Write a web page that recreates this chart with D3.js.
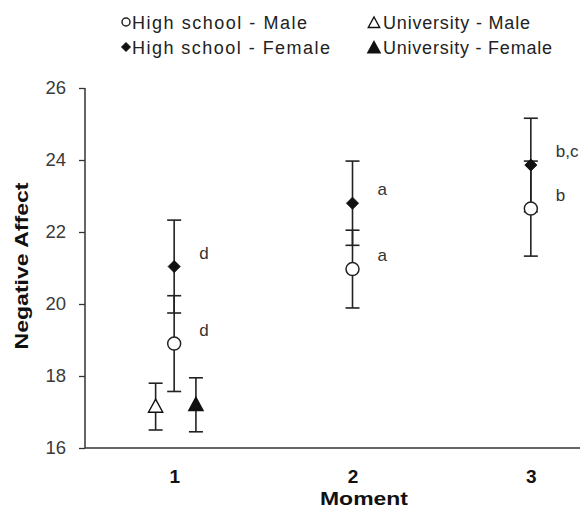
<!DOCTYPE html>
<html>
<head>
<meta charset="utf-8">
<script src="https://cdn.jsdelivr.net/npm/d3@7"></script>
<style>
  html, body { margin: 0; padding: 0; background: #fff; }
  svg { display: block; }
  text { font-family: "Liberation Sans", Arial, sans-serif; }
</style>
</head>
<body>
<svg id="chart" width="580" height="509"></svg>
<script>
// ---- data ----
const moments = [1, 2, 3];
const yTicks = [16, 18, 20, 22, 24, 26];

const hsMaleMean   = [18.9, 20.97, 22.65];
const hsMaleErr    = [1.33, 1.08, 1.32];
const hsFemaleMean = [21.04, 22.8, 23.86];
const hsFemaleErr  = [1.29, 1.17, 1.3];
const uniMaleMean   = [17.15];
const uniMaleErr    = [0.65];
const uniFemaleMean = [17.2];
const uniFemaleErr  = [0.75];

const hsMaleLabels   = ["d", "a", "b"];
const hsFemaleLabels = ["d", "a", "b,c"];

const legendNames = ["High school - Male", "High school - Female", "University - Male", "University - Female"];

// ---- layout ----
const svg = d3.select("#chart");
const x = d3.scaleLinear().domain([0.5, 3.5]).range([85, 620]);
const y = d3.scaleLinear().domain([16, 26]).range([448, 88]);

const ink = "#222";

// axes
const yAxis = svg.append("g").attr("transform", "translate(85,0)")
  .call(d3.axisLeft(y).tickValues(yTicks).tickSize(6).tickPadding(13).tickFormat(d3.format("d")));
yAxis.select(".domain").attr("stroke", "#333").attr("stroke-width", 1.5).attr("d", `M0,${y(26)}V${y(16)}`);
yAxis.selectAll(".tick line").attr("stroke", "#333").attr("stroke-width", 1.3);
yAxis.selectAll(".tick text").attr("fill", "#3a3a3a").style("font-size", "18.5px")
  .style("font-family", "'Liberation Sans', Arial, sans-serif");

const xAxis = svg.append("g").attr("transform", `translate(0,${y(16)})`)
  .call(d3.axisBottom(x).tickValues(moments).tickSize(0).tickPadding(22).tickFormat(d3.format("d")));
xAxis.select(".domain").attr("stroke", "#333").attr("stroke-width", 1.5).attr("d", `M85,0H580`);
xAxis.selectAll(".tick text").attr("fill", "#111").style("font-size", "19px").style("font-weight", "bold")
  .style("font-family", "'Liberation Sans', Arial, sans-serif");

// axis titles
svg.append("text").attr("x", 364).attr("y", 505).attr("text-anchor", "middle")
  .attr("fill", "#111").style("font-size", "19px").style("font-weight", "bold")
  .attr("textLength", 88).attr("lengthAdjust", "spacingAndGlyphs").text("Moment");
svg.append("text").attr("transform", "translate(28,266) rotate(-90)").attr("text-anchor", "middle")
  .attr("fill", "#111").style("font-size", "19px").style("font-weight", "bold")
  .attr("textLength", 167).attr("lengthAdjust", "spacingAndGlyphs").text("Negative Affect");

// marker shapes
function drawMarker(g, type, cx, cy, s) {
  if (type === "circle") {
    g.append("circle").attr("cx", cx).attr("cy", cy).attr("r", s)
      .attr("fill", "#fff").attr("stroke", ink).attr("stroke-width", 1.5);
  } else if (type === "diamond") {
    g.append("path").attr("d", `M${cx},${cy - s}L${cx + s},${cy}L${cx},${cy + s}L${cx - s},${cy}Z`)
      .attr("fill", "#111").attr("stroke", "#111").attr("stroke-width", 1);
  } else {
    const filled = type === "triFilled";
    g.append("path").attr("d", `M${cx},${cy - s}L${cx + s * 0.95},${cy + s * 0.75}L${cx - s * 0.95},${cy + s * 0.75}Z`)
      .attr("fill", filled ? "#111" : "#fff").attr("stroke", "#111").attr("stroke-width", 1.4)
      .attr("stroke-linejoin", "miter");
  }
}

const series = [
  { mean: hsMaleMean, err: hsMaleErr, type: "circle", size: 6.5, off: 0 },
  { mean: hsFemaleMean, err: hsFemaleErr, type: "diamond", size: 6, off: 0 },
  { mean: uniMaleMean, err: uniMaleErr, type: "triOpen", size: 7.5, off: -0.104 },
  { mean: uniFemaleMean, err: uniFemaleErr, type: "triFilled", size: 7.5, off: 0.122 }
];

const plot = svg.append("g");
const capW = 7;
// error bars first
series.forEach(s => {
  s.mean.forEach((m, i) => {
    const cx = x(moments[i] + s.off);
    const top = y(m + s.err[i]), bot = y(m - s.err[i]);
    plot.append("line").attr("x1", cx).attr("x2", cx).attr("y1", top).attr("y2", bot)
      .attr("stroke", ink).attr("stroke-width", 1.6);
    [top, bot].forEach(yy => plot.append("line").attr("x1", cx - capW).attr("x2", cx + capW)
      .attr("y1", yy).attr("y2", yy).attr("stroke", ink).attr("stroke-width", 1.6));
  });
});
// markers
series.forEach(s => {
  s.mean.forEach((m, i) => drawMarker(plot, s.type, x(moments[i] + s.off), y(m), s.size));
});

// significance labels
const labelG = svg.append("g").attr("fill", "#333").style("font-size", "17px");
[[hsMaleMean, hsMaleLabels], [hsFemaleMean, hsFemaleLabels]].forEach(([means, labs]) => {
  means.forEach((m, i) => {
    labelG.append("text").attr("x", x(moments[i]) + 25).attr("y", y(m) - 14)
      .attr("dy", "0.35em").text(labs[i]);
  });
});

// legend
const legend = svg.append("g");
const legItems = [
  { name: legendNames[0], type: "circle", size: 4, mx: 126, tx: 132, y: 22, w: 175 },
  { name: legendNames[1], type: "diamond", size: 4.5, mx: 126, tx: 132, y: 47, w: 198 },
  { name: legendNames[2], type: "triOpen", size: 6, mx: 374, tx: 383, y: 22, w: 147 },
  { name: legendNames[3], type: "triFilled", size: 6.5, mx: 374, tx: 383, y: 47, w: 169 }
];
legItems.forEach(it => {
  drawMarker(legend, it.type, it.mx, it.y + (it.type.startsWith("tri") ? 1 : 0), it.size);
  legend.append("text").attr("x", it.tx).attr("y", it.y + 6.5).attr("fill", "#222")
    .style("font-size", "18px").attr("textLength", it.w).attr("lengthAdjust", "spacing").text(it.name);
});
</script>
</body>
</html>
